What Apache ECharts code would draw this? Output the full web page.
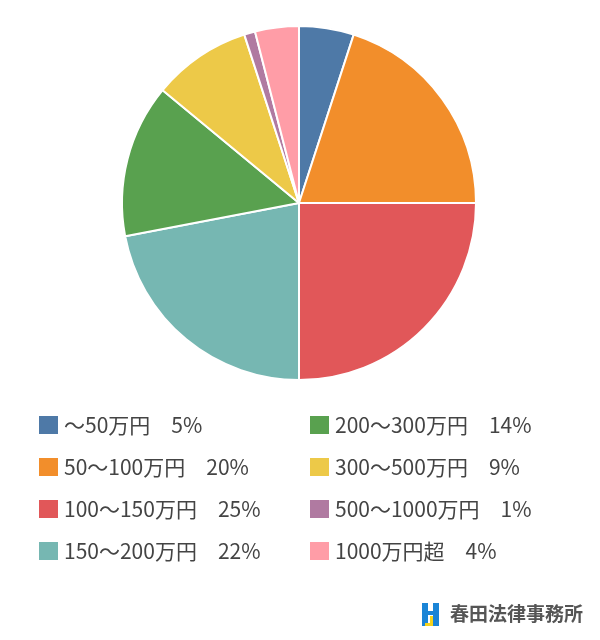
<!DOCTYPE html>
<html>
<head>
<meta charset="utf-8">
<script src="https://cdn.jsdelivr.net/npm/echarts@6/dist/echarts.min.js"></script>
<style>html,body{margin:0;padding:0;background:#fff;}#c{width:600px;height:640px;}</style>
</head>
<body>
<div id="c"></div>
<script>
const categories = ['～50万円', '50～100万円', '100～150万円', '150～200万円', '200～300万円', '300～500万円', '500～1000万円', '1000万円超'];
const values = [5, 20, 25, 22, 14, 9, 1, 4];
const colors = ['#4e79a7', '#f28e2b', '#e15759', '#76b7b2', '#59a14f', '#edc948', '#b07aa1', '#ff9da7'];
const brandName = '春田法律事務所';

const chart = echarts.init(document.getElementById('c'));
const font = '"Noto Sans CJK JP", "Noto Sans", sans-serif';
const fmt = function (name) {
  const i = categories.indexOf(name);
  return name + '　' + values[i] + '%';
};
const legendBase = {
  orient: 'vertical',
  padding: 0,
  itemGap: 20,
  itemWidth: 21,
  itemHeight: 20,
  icon: 'rect',
  selectedMode: false,
  formatter: fmt,
  textStyle: { fontSize: 21, lineHeight: 22, color: '#444', fontFamily: font }
};
chart.setOption({
  color: colors,
  animation: false,
  textStyle: { fontFamily: font },
  legend: [
    Object.assign({}, legendBase, { left: 37, top: 414, data: categories.slice(0, 4) }),
    Object.assign({}, legendBase, { left: 308, top: 414, data: categories.slice(4) })
  ],
  series: [{
    type: 'pie',
    center: [299, 203],
    radius: 177,
    startAngle: 90,
    clockwise: true,
    label: { show: false },
    labelLine: { show: false },
    emphasis: { disabled: true },
    itemStyle: { borderColor: '#fff', borderWidth: 2 },
    data: categories.map((c, i) => ({ name: c, value: values[i] }))
  }],
  graphic: [
    { type: 'rect', shape: { x: 422, y: 603, width: 6, height: 23 }, style: { fill: '#1a84d6' } },
    { type: 'rect', shape: { x: 433, y: 603, width: 6, height: 23 }, style: { fill: '#1a84d6' } },
    { type: 'rect', shape: { x: 428, y: 611, width: 5, height: 4 }, style: { fill: '#1a84d6' } },
    { type: 'rect', shape: { x: 430, y: 616, width: 3, height: 10 }, style: { fill: '#f5d21c' } },
    { type: 'rect', shape: { x: 425, y: 623, width: 8, height: 3 }, style: { fill: '#f5d21c' } },
    { type: 'text', left: 450, top: 604, style: { text: brandName, fontSize: 19, fontWeight: 'bold', fill: '#555', fontFamily: font } }
  ]
});
</script>
</body>
</html>
